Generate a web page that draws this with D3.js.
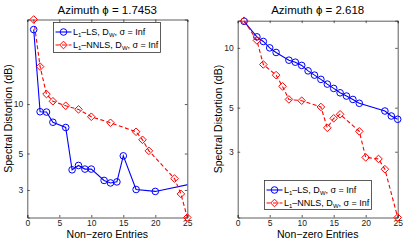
<!DOCTYPE html>
<html>
<head>
<meta charset="utf-8">
<script src="https://cdn.jsdelivr.net/npm/d3@7"></script>
<style>
  body { margin: 0; background: #fff; }
  text { font-family: "Liberation Sans", Arial, sans-serif; }
</style>
</head>
<body>
<svg id="chart" width="407" height="241"></svg>
<script>
// values (spectral distortion in dB vs. non-zero entries)
const leftLsX = [1, 2, 3, 4, 6, 7, 8, 9, 10, 12, 13, 14, 15, 17, 20, 30];
const leftLsY = [28.4, 8.98, 8.94, 7.75, 7.2, 3.98, 4.23, 4.02, 4.02, 3.43, 3.31, 3.36, 4.84, 3.02, 2.94, 3.54];
const leftNnlsX = [1, 2, 3, 4, 6, 8, 10, 13, 17, 18, 19, 23, 24, 25];
const leftNnlsY = [32.7, 16.9, 11.5, 10.4, 9.76, 9.28, 8.37, 7.69, 6.78, 6.06, 5.19, 3.52, 2.84, 2.04];

const rightLsX = [1, 3, 4, 5, 6, 8, 9, 10, 11, 12, 13, 14, 15, 16, 17, 18, 19, 23, 24, 25];
const rightLsY = [13.6, 11.36, 10.77, 10.0, 9.48, 8.67, 8.47, 8.16, 7.66, 7.29, 6.94, 6.57, 6.25, 5.94, 5.72, 5.50, 5.26, 4.81, 4.54, 4.37];
const rightNnlsX = [1, 3, 4, 6, 7, 8, 10, 13, 14, 15, 16, 19, 20, 22, 23, 25];
const rightNnlsY = [13.7, 10.9, 8.25, 7.29, 6.40, 5.50, 5.42, 5.04, 3.96, 4.42, 4.63, 3.80, 2.81, 2.76, 2.45, 1.40];

const xTicks = [0, 5, 10, 15, 20, 25];
const yTicks = [3, 5, 10];
const titles = ["Azimuth \u03d5 = 1.7453", "Azimuth \u03d5 = 2.618"];

const svg = d3.select("#chart");

function zip(xs, ys) { return xs.map((x, i) => ({x: x, y: ys[i]})); }

const panels = [
  {id: "l", title: titles[0], left: 27.3, right: 187.3, top: 19.5, bottom: 217.5,
   ls: zip(leftLsX, leftLsY), nnls: zip(leftNnlsX, leftNnlsY),
   legend: {x: 53.5, y: 22.5, w: 107, h: 30}, ylabX: 8},
  {id: "r", title: titles[1], left: 237.7, right: 397.7, top: 20.7, bottom: 217.5,
   ls: zip(rightLsX, rightLsY), nnls: zip(rightNnlsX, rightNnlsY),
   legend: {x: 264.5, y: 180.5, w: 107, h: 29}, ylabX: 218}
];

function diamond(g, x, y, r, color) {
  g.append("path")
    .attr("d", `M${x},${y - r}L${x + r},${y}L${x},${y + r}L${x - r},${y}Z`)
    .attr("fill", "none").attr("stroke", color).attr("stroke-width", 1);
}
function circle(g, x, y, r, color) {
  g.append("circle").attr("cx", x).attr("cy", y).attr("r", r)
    .attr("fill", "none").attr("stroke", color).attr("stroke-width", 1);
}

function legendLabel(t, name) {
  t.append("tspan").text("L");
  t.append("tspan").attr("font-size", 6).attr("dy", 2).text("1");
  t.append("tspan").attr("dy", -2).text("\u2013" + name + ", D");
  t.append("tspan").attr("font-size", 6).attr("dy", 2).text("W");
  t.append("tspan").attr("dy", -2).text(", \u03c3 = Inf");
}

panels.forEach(p => {
  const inRange = d => d.x <= 25;
  const all = p.ls.filter(inRange).concat(p.nnls.filter(inRange));
  const x = d3.scaleLinear().domain([0, 25]).range([p.left, p.right]);
  const y = d3.scaleLog().domain(d3.extent(all, d => d.y)).range([p.bottom, p.top]);

  const g = svg.append("g");

  g.append("rect").attr("x", p.left).attr("y", p.top)
    .attr("width", p.right - p.left).attr("height", p.bottom - p.top)
    .attr("fill", "#fff");

  // axes, ticks pointing inward on all four sides
  const tk = 2.5;
  g.append("g").attr("transform", `translate(0,${p.bottom})`)
    .call(d3.axisBottom(x).tickValues(xTicks).tickSize(-tk).tickPadding(2).tickFormat(d3.format("d")));
  g.append("g").attr("transform", `translate(0,${p.top})`)
    .call(d3.axisTop(x).tickValues(xTicks).tickSize(-tk).tickFormat(""));
  g.append("g").attr("transform", `translate(${p.left},0)`)
    .call(d3.axisLeft(y).tickValues(yTicks).tickSize(-tk).tickPadding(4).tickFormat(d3.format("d")));
  g.append("g").attr("transform", `translate(${p.right},0)`)
    .call(d3.axisRight(y).tickValues(yTicks).tickSize(-tk).tickFormat(""));
  g.selectAll(".domain").attr("stroke", "#333").attr("stroke-width", 0.8);
  g.selectAll(".tick line").attr("stroke", "#333").attr("stroke-width", 0.8);
  g.selectAll(".tick text").attr("font-size", 8.5).attr("fill", "#222")
    .attr("font-family", "Liberation Sans, Arial, sans-serif");

  g.append("clipPath").attr("id", "clip-" + p.id).append("rect")
    .attr("x", p.left).attr("y", p.top - 1)
    .attr("width", p.right - p.left).attr("height", p.bottom - p.top + 2);

  const line = d3.line().x(d => x(d.x)).y(d => y(d.y));

  g.append("path").datum(p.ls).attr("d", line)
    .attr("clip-path", `url(#clip-${p.id})`)
    .attr("fill", "none").attr("stroke", "#0000ff").attr("stroke-width", 1.1);
  g.append("path").datum(p.nnls).attr("d", line)
    .attr("clip-path", `url(#clip-${p.id})`)
    .attr("fill", "none").attr("stroke", "#ff0000").attr("stroke-width", 1.1)
    .attr("stroke-dasharray", "4,2.5");

  p.ls.filter(inRange).forEach(d => circle(g, x(d.x), y(d.y), 3.3, "#0000ff"));
  p.nnls.filter(inRange).forEach(d => diamond(g, x(d.x), y(d.y), 3.8, "#ff0000"));

  // title and axis labels
  g.append("text").attr("x", (p.left + p.right) / 2).attr("y", 14)
    .attr("text-anchor", "middle").attr("font-size", 11.5).attr("fill", "#000").text(p.title);
  g.append("text").attr("x", (p.left + p.right) / 2).attr("y", 238)
    .attr("text-anchor", "middle").attr("font-size", 10.5).attr("fill", "#000").text("Non\u2212zero Entries");
  g.append("text").attr("transform", `translate(${p.ylabX},${(p.top + p.bottom) / 2}) rotate(-90)`)
    .attr("dy", "0.35em").attr("text-anchor", "middle").attr("font-size", 10.5).attr("fill", "#000")
    .text("Spectral Distortion (dB)");

  // legend
  const L = p.legend;
  const lg = g.append("g");
  lg.append("rect").attr("x", L.x).attr("y", L.y).attr("width", L.w).attr("height", L.h)
    .attr("fill", "#fff").attr("stroke", "#333").attr("stroke-width", 0.8);
  const rows = [
    {name: "LS", color: "#0000ff", dash: null, mark: circle, r: 3.3},
    {name: "NNLS", color: "#ff0000", dash: "4,2.5", mark: diamond, r: 3.8}
  ];
  rows.forEach((row, i) => {
    const ry = L.y + 9.5 + i * 13;
    lg.append("line").attr("x1", L.x + 2).attr("x2", L.x + 18).attr("y1", ry).attr("y2", ry)
      .attr("stroke", row.color).attr("stroke-width", 1.1).attr("stroke-dasharray", row.dash);
    row.mark(lg, L.x + 10, ry, row.r, row.color);
    const t = lg.append("text").attr("x", L.x + 19.5).attr("y", ry + 3.2)
      .attr("font-size", 9).attr("fill", "#000");
    legendLabel(t, row.name);
  });
});
</script>
</body>
</html>
